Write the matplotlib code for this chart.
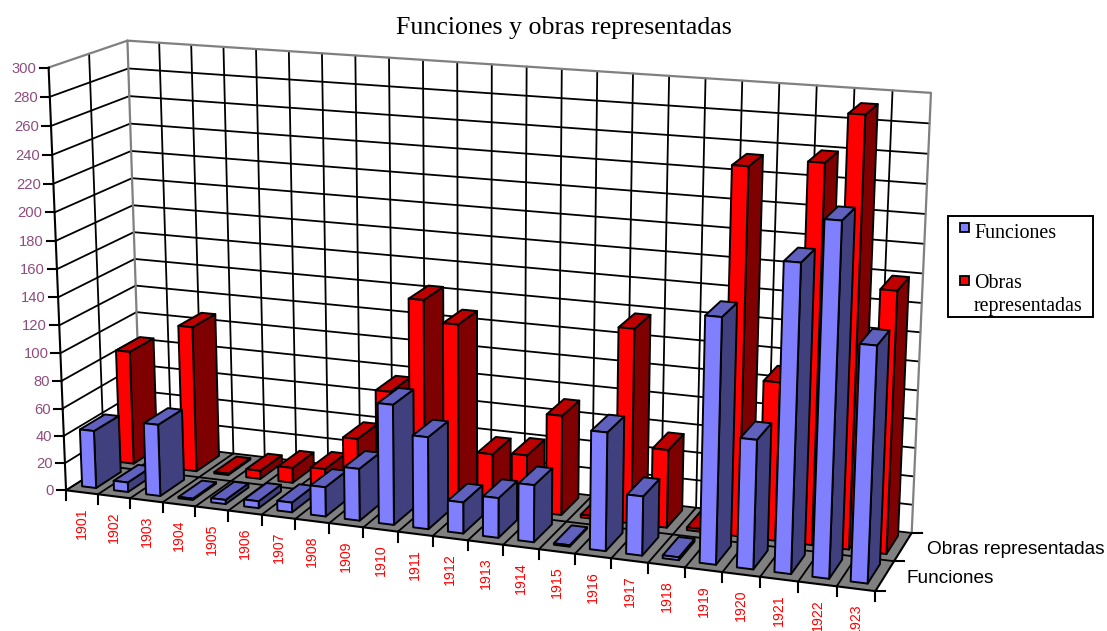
import numpy as np
import matplotlib
matplotlib.use("Agg")
import matplotlib.pyplot as plt
from matplotlib.patches import Polygon, Rectangle

years = [str(y) for y in range(1901, 1924)]
funciones = [42, 7, 52, 1, 3, 5, 7, 21, 37, 85, 65, 22, 28, 40, 1, 82, 41, 2, 167, 88, 207, 236, 158]
obras = [84, 0, 107, 1, 6, 11, 13, 38, 75, 143, 128, 38, 40, 71, 2, 137, 55, 2, 253, 110, 259, 292, 179]
z_ticks = list(range(0, 301, 20))
series_names = ["Funciones", "Obras representadas"]

BLUE = ("#8080FF", "#40407F", "#6060BF")
RED = ("#FF0000", "#7F0000", "#BF0000")
PLUM = "#8F4C7F"
SANS = "Liberation Sans"
SERIF = "Liberation Serif"

# camera for the fake 3d box, fitted on the corners of the box (pixels of the picture)
box = [(0, 0, 0), (23, 0, 0), (23, 2, 0), (0, 2, 0), (0, 0, 300), (0, 2, 300), (23, 2, 300)]
pix = [(66, 490), (875, 592), (912, 532), (141, 443), (49, 67), (127, 41), (931, 93)]

rows = []
for (a, b, c), (u, v) in zip(box, pix):
    rows.append([a, b, c, 1, 0, 0, 0, 0, -u*a, -u*b, -u*c, -u])
    rows.append([0, 0, 0, 0, a, b, c, 1, -v*a, -v*b, -v*c, -v])
P = np.linalg.svd(np.array(rows, dtype=float))[2][-1].reshape(3, 4)


def proj(a, b, c):
    w = P @ np.array([a, b, c, 1.0])
    return w[0]/w[2], w[1]/w[2]


fig = plt.figure(figsize=(11.07, 6.31), dpi=100)
ax = fig.add_axes([0, 0, 1, 1])
ax.set_xlim(0, 1107)
ax.set_ylim(631, 0)
ax.axis("off")


def line(p, q, color="black", lw=1.3, z=2):
    a, b = proj(*p), proj(*q)
    ax.plot([a[0], b[0]], [a[1], b[1]], color=color, lw=lw, zorder=z, solid_capstyle="round")


def face(pts, color, z=3):
    ax.add_patch(Polygon([proj(*p) for p in pts], closed=True, fc=color, ec="black",
                         lw=1.4, zorder=z, joinstyle="round"))


n = len(years)

# walls and floor
ax.add_patch(Polygon([proj(0, 0, 0), proj(0, 2, 0), proj(0, 2, 300), proj(0, 0, 300)], fc="white", ec="none", zorder=1))
ax.add_patch(Polygon([proj(0, 2, 0), proj(n, 2, 0), proj(n, 2, 300), proj(0, 2, 300)], fc="white", ec="none", zorder=1))
ax.add_patch(Polygon([proj(0, 0, 0), proj(n, 0, 0), proj(n, 2, 0), proj(0, 2, 0)], fc="#808080", ec="none", zorder=1))

for z in z_ticks[:-1]:
    line((0, 0, z), (0, 2, z))
    line((0, 2, z), (n, 2, z))
for i in range(1, n):
    line((i, 2, 0), (i, 2, 300))
    line((i, 0, 0), (i, 2, 0))
line((0, 1, 0), (0, 1, 300))
line((0, 1, 0), (n, 1, 0))

# grey border of the walls
line((0, 0, 300), (0, 2, 300), "#808080", 1.6)
line((0, 2, 300), (n, 2, 300), "#808080", 1.6)
line((0, 2, 0), (0, 2, 300), "#808080", 1.6)
line((n, 2, 0), (n, 2, 300), "#808080", 1.6)

# axis lines
line((0, 0, 0), (0, 0, 300), lw=1.5)
line((0, 0, 0), (n, 0, 0), lw=1.5)
line((n, 0, 0), (n, 2, 0), lw=1.5)
line((0, 0, 0), (0, 2, 0), lw=1.2)

# bars, back row first and from left to right
zo = 3
for row, values, cols in [(1, obras, RED), (0, funciones, BLUE)]:
    y0, y1 = row+0.2, row+0.85
    for i, h in enumerate(values):
        if h <= 0:
            continue
        x0, x1 = i+0.26, i+0.70
        zo += 1
        face([(x1, y0, 0), (x1, y1, 0), (x1, y1, h), (x1, y0, h)], cols[1], zo)
        face([(x0, y0, h), (x1, y0, h), (x1, y1, h), (x0, y1, h)], cols[2], zo)
        face([(x0, y0, 0), (x1, y0, 0), (x1, y0, h), (x0, y0, h)], cols[0], zo)

# ticks and labels
for z in z_ticks:
    u, v = proj(0, 0, z)
    ax.plot([u-9, u], [v, v], color="black", lw=1.5, zorder=2)
    ax.text(u-12, v+1, str(z), color=PLUM, family=SANS, fontsize=10.6, ha="right", va="center")

for i in range(n+1):
    u, v = proj(i, 0, 0)
    ax.plot([u, u], [v, v+10], color="black", lw=1.5, zorder=2)

for i, year in enumerate(years):
    u, v = proj(i+0.5, 0, 0)
    ax.text(u, v+15, year, color="red", family=SANS, fontsize=10.2, rotation=90, ha="center", va="top")

for d in range(3):
    u, v = proj(n, d, 0)
    ax.plot([u, u+10], [v, v], color="black", lw=1.5, zorder=2)

u, v = proj(n, 0.5, 0)
ax.text(u+22, v+3, series_names[0], color="black", family=SANS, fontsize=13.7, ha="left", va="center")
u, v = proj(n, 1.5, 0)
ax.text(u+24, v+3, series_names[1], color="black", family=SANS, fontsize=13.7, ha="left", va="center")

ax.text(564, 28, "Funciones y obras representadas", family=SERIF, fontsize=18.6, ha="center", va="center")

# legend
ax.add_patch(Rectangle((948, 216), 145, 101, fc="white", ec="black", lw=1.4, zorder=30))
ax.add_patch(Rectangle((960, 223), 9, 9, fc=BLUE[0], ec="black", lw=1.3, zorder=31))
ax.add_patch(Rectangle((960, 276), 9, 9, fc=RED[0], ec="black", lw=1.3, zorder=31))
ax.text(974, 234, series_names[0], family=SERIF, fontsize=14.4, va="center", zorder=31)
ax.text(974, 284, "Obras", family=SERIF, fontsize=14.4, va="center", zorder=31)
ax.text(974, 306, "representadas", family=SERIF, fontsize=14.4, va="center", zorder=31)

fig.savefig("out.png", dpi=100)
